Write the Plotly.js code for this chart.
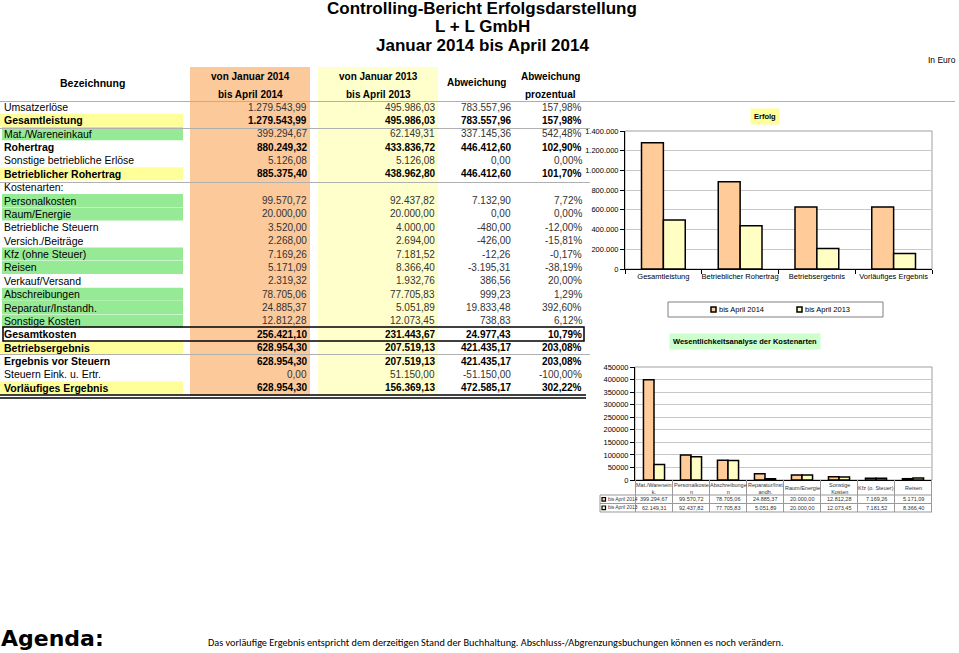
<!DOCTYPE html>
<html>
<head>
<meta charset="utf-8">
<script src="https://cdn.plot.ly/plotly-3.0.1.min.js"></script>
<style>html,body{margin:0;padding:0;background:#fff;}</style>
</head>
<body>
<div id="chart" style="width:959px;height:653px;"></div>
<script>
// Tabelle Erfolgsdarstellung
const rowLabels = ["Umsatzerlöse", "Gesamtleistung", "Mat./Wareneinkauf", "Rohertrag", "Sonstige betriebliche Erlöse",
    "Betrieblicher Rohertrag", "Kostenarten:", "Personalkosten", "Raum/Energie", "Betriebliche Steuern",
    "Versich./Beiträge", "Kfz (ohne Steuer)", "Reisen", "Verkauf/Versand", "Abschreibungen",
    "Reparatur/Instandh.", "Sonstige Kosten", "Gesamtkosten", "Betriebsergebnis", "Ergebnis vor Steuern",
    "Steuern Eink. u. Ertr.", "Vorläufiges Ergebnis"];
const ist2014 = [1279543.99, 1279543.99, 399294.67, 880249.32, 5126.08, 885375.40, null, 99570.72, 20000.00, 3520.00,
    2268.00, 7169.26, 5171.09, 2319.32, 78705.06, 24885.37, 12812.28, 256421.10, 628954.30, 628954.30, 0.00, 628954.30];
const ist2013 = [495986.03, 495986.03, 62149.31, 433836.72, 5126.08, 438962.80, null, 92437.82, 20000.00, 4000.00,
    2694.00, 7181.52, 8366.40, 1932.76, 77705.83, 5051.89, 12073.45, 231443.67, 207519.13, 207519.13, 51150.00, 156369.13];
const abweichung = [783557.96, 783557.96, 337145.36, 446412.60, 0.00, 446412.60, null, 7132.90, 0.00, -480.00,
    -426.00, -12.26, -3195.31, 386.56, 999.23, 19833.48, 738.83, 24977.43, 421435.17, 421435.17, -51150.00, 472585.17];
const abweichungProz = [157.98, 157.98, 542.48, 102.90, 0.00, 101.70, null, 7.72, 0.00, -12.00,
    -15.81, -0.17, -38.19, 20.00, 1.29, 392.60, 6.12, 10.79, 203.08, 203.08, -100.00, 302.22];

// Diagramme
const serien = ["bis April 2014", "bis April 2013"];
const erfolgKategorien = ["Gesamtleistung", "Betrieblicher Rohertrag", "Betriebsergebnis", "Vorläufiges Ergebnis"];
const erfolgZeilen = [1, 5, 18, 21];
const kostenKategorien = ["Mat./Wareneink.", "Personalkosten", "Abschreibungen", "Reparatur/Instandh.",
    "Raum/Energie", "Sonstige Kosten", "Kfz (o. Steuer)", "Reisen"];
const kostenKoepfe = ["Mat./Warenein<br>k.", "Personalkoste<br>n", "Abschreibunge<br>n", "Reparatur/Inst<br>andh.",
    "Raum/Energie", "Sonstige<br>Kosten", "Kfz (o. Steuer)", "Reisen"];
const kostenZeilen = [2, 7, 14, 15, 8, 16, 11, 12];

// Formatierung
const boldRows = [1, 3, 5, 17, 18, 19, 21];
const yellowRows = [1, 5, 18, 21];
const greenRows = [2, 7, 8, 11, 12, 14, 15, 16];

const W = 959, H = 653;
const px = (x) => x / W;
const py = (y) => 1 - y / H;
const rowY = (i) => 107 + i * 13.37;

const ORANGE = "#FCC99B", YELLOW = "#FFFFCC", BAR_OR = "#FFCC99", BAR_YE = "#FFFFC4";
const FONT = "Liberation Sans, Arial, sans-serif";

function fmt(v) {
    const neg = v < 0;
    const s = Math.abs(v).toFixed(2).split(".");
    return (neg ? "-" : "") + s[0].replace(/\B(?=(\d{3})+(?!\d))/g, ".") + "," + s[1];
}

const annotations = [];
const shapes = [];

function text(x, y, t, opts) {
    opts = opts || {};
    annotations.push({
        xref: opts.xref || "paper", yref: "paper",
        x: opts.xref ? x : px(x), y: py(y), text: t, showarrow: false,
        xanchor: opts.anchor || "left", yanchor: "middle",
        align: opts.align || "center", bgcolor: opts.bg,
        font: { family: opts.family || FONT, size: opts.size || 10.5, color: opts.color || "#000",
            weight: opts.bold ? "bold" : "normal" },
        borderpad: opts.pad === undefined ? 0 : opts.pad,
    });
}
function rect(x0, y0, x1, y1, fill, line, lw) {
    shapes.push({ type: "rect", xref: "paper", yref: "paper", x0: px(x0), x1: px(x1), y0: py(y1), y1: py(y0),
        fillcolor: fill || "rgba(0,0,0,0)", line: { color: line || "rgba(0,0,0,0)", width: lw || 0 }, layer: "below" });
}
function hline(x0, x1, y, color, w) {
    shapes.push({ type: "line", xref: "paper", yref: "paper", x0: px(x0), x1: px(x1), y0: py(y), y1: py(y),
        line: { color: color, width: w || 1 } });
}

// Titel
text(482, 9, "Controlling-Bericht Erfolgsdarstellung", { anchor: "center", size: 17, bold: true });
text(482, 27, "L + L GmbH", { anchor: "center", size: 17, bold: true });
text(482, 45, "Januar 2014 bis April 2014", { anchor: "center", size: 17, bold: true });
text(957, 60, "In Euro", { anchor: "right", size: 8.5 });

// Spaltenhintergrund
rect(190, 67, 310, 396, ORANGE);
rect(318, 67, 438, 396, YELLOW);

// Kopfzeile
text(92, 83, "Bezeichnung", { anchor: "center", bold: true, size: 10.5 });
text(250, 76, "von Januar 2014", { anchor: "center", bold: true, size: 10 });
text(250, 94, "bis April 2014", { anchor: "center", bold: true, size: 10 });
text(378, 76, "von Januar 2013", { anchor: "center", bold: true, size: 10 });
text(378, 94, "bis April 2013", { anchor: "center", bold: true, size: 10 });
text(476, 83, "Abweichung", { anchor: "center", bold: true, size: 10 });
text(550, 76, "Abweichung", { anchor: "center", bold: true, size: 10 });
text(550, 94, "prozentual", { anchor: "center", bold: true, size: 10 });

hline(0, 955, 101.5, "#b0b0b0", 1);
hline(0, 590, 128.5, "#b0b0b0", 1);
hline(0, 590, 182.5, "#b0b0b0", 1);
hline(0, 590, 354.5, "#b0b0b0", 1);

rowLabels.forEach((lab, i) => {
    const y = rowY(i);
    const bold = boldRows.includes(i);
    if (yellowRows.includes(i)) rect(0, y - 6.5, 183, y + 6.5, "#FFFF99");
    if (greenRows.includes(i)) rect(2, y - 6.5, 183, y + 6.5, "#96EA96");
    text(3, y, lab, { bold: bold, size: 10.5 });
    if (ist2014[i] === null) return;
    const col = bold ? "#000" : "#333";
    text(308, y, fmt(ist2014[i]), { anchor: "right", bold: bold, color: col, size: 10 });
    text(436, y, fmt(ist2013[i]), { anchor: "right", bold: bold, color: col, size: 10 });
    text(512, y, fmt(abweichung[i]), { anchor: "right", bold: bold, color: col, size: 10 });
    text(583, y, fmt(abweichungProz[i]) + "%", { anchor: "right", bold: bold, color: col, size: 10 });
});

// Gesamtkosten-Rahmen und Abschlusslinie
shapes.push({ type: "rect", xref: "paper", yref: "paper", x0: px(3), x1: px(584), y0: py(341), y1: py(327),
    line: { color: "#000", width: 1.5 } });
hline(0, 586, 395, "#000", 1.5);
hline(0, 586, 398, "#000", 1.5);

// Diagramm 1: Erfolg
text(765, 116, "Erfolg", { anchor: "center", bold: true, size: 7.5, bg: "#FFFF99", pad: 3 });
const traces = [
    { type: "bar", name: serien[0], x: erfolgKategorien, y: erfolgZeilen.map((i) => ist2014[i]),
        xaxis: "x", yaxis: "y", marker: { color: BAR_OR, line: { color: "#000", width: 1.5 } } },
    { type: "bar", name: serien[1], x: erfolgKategorien, y: erfolgZeilen.map((i) => ist2013[i]),
        xaxis: "x", yaxis: "y", marker: { color: BAR_YE, line: { color: "#000", width: 1.5 } } },
    { type: "bar", name: serien[0], x: kostenKategorien, y: kostenZeilen.map((i) => ist2014[i]),
        xaxis: "x2", yaxis: "y2", marker: { color: BAR_OR, line: { color: "#000", width: 1.5 } } },
    { type: "bar", name: serien[1], x: kostenKategorien, y: kostenZeilen.map((i) => ist2013[i]),
        xaxis: "x2", yaxis: "y2", marker: { color: BAR_YE, line: { color: "#000", width: 1.5 } } },
];

// Plotrahmen grau
["", "2"].forEach((n) => {
    shapes.push({ type: "rect", xref: "x" + n + " domain", yref: "y" + n + " domain", x0: 0, x1: 1, y0: 0, y1: 1,
        line: { color: "#a0a0a0", width: 1 }, layer: "below" });
});

// Legende Diagramm 1
rect(668, 302, 883, 317, null, "#808080", 1);
[[711, BAR_OR, serien[0]], [797, BAR_YE, serien[1]]].forEach(([x, c, t]) => {
    shapes.push({ type: "rect", xref: "paper", yref: "paper", x0: px(x), x1: px(x + 5), y0: py(312), y1: py(307),
        fillcolor: c, line: { color: "#000", width: 1.5 } });
    text(x + 7, 309.5, t, { size: 7.5 });
});

// Diagramm 2: Kostenarten
text(745, 341, "Wesentlichkeitsanalyse der Kostenarten", { anchor: "center", bold: true, size: 7.5, bg: "#CCFFCC", pad: 3 });

// Datentabelle unter Diagramm 2
for (let k = 0; k <= kostenKategorien.length; k++) {
    shapes.push({ type: "line", xref: "x2", yref: "paper", x0: k - 0.5, x1: k - 0.5, y0: py(480), y1: py(512),
        line: { color: "#999", width: 1 } });
}
shapes.push({ type: "line", xref: "paper", yref: "paper", x0: px(600), x1: px(600), y0: py(495), y1: py(512),
    line: { color: "#999", width: 1 } });
[495, 503.5, 512].forEach((y) => hline(600, 932, y, "#999", 1));

kostenKategorien.forEach((k, j) => {
    text(k, 488, kostenKoepfe[j], { xref: "x2", anchor: "center", size: 5.5, color: "#333" });
    text(k, 499.3, fmt(ist2014[kostenZeilen[j]]), { xref: "x2", anchor: "center", size: 5.5, color: "#333" });
    text(k, 507.8, fmt(ist2013[kostenZeilen[j]]), { xref: "x2", anchor: "center", size: 5.5, color: "#333" });
});
[[499.3, BAR_OR, serien[0]], [507.8, BAR_YE, serien[1]]].forEach(([y, c, t]) => {
    shapes.push({ type: "rect", xref: "paper", yref: "paper", x0: px(602), x1: px(605.5), y0: py(y + 1.8), y1: py(y - 1.8),
        fillcolor: c, line: { color: "#000", width: 1.2 } });
    text(606.5, y, t, { size: 4.9, color: "#333" });
});

// Fusszeile
text(0, 638.5, "Agenda:", { family: "DejaVu Sans, sans-serif", size: 22, bold: true });
text(207, 642, "Das vorläufige Ergebnis entspricht dem derzeitigen Stand der Buchhaltung. Abschluss-/Abgrenzungsbuchungen können es noch verändern.",
    { family: "Carlito, Liberation Sans Narrow, Arial Narrow, sans-serif", size: 10.25 });

const axisCommon = { showline: true, linecolor: "#000", linewidth: 1, ticks: "outside", ticklen: 4,
    tickcolor: "#000", fixedrange: true, zeroline: false };

const layout = {
    width: W, height: H,
    margin: { l: 0, r: 0, t: 0, b: 0 },
    paper_bgcolor: "#fff", plot_bgcolor: "#fff",
    showlegend: false,
    barmode: "group", bargap: 0.43, bargroupgap: 0,
    separators: ",.",
    font: { family: FONT, color: "#000" },
    xaxis: Object.assign({}, axisCommon, { domain: [px(625), px(932)], anchor: "y", tickson: "boundaries",
        tickangle: 0, showgrid: false, tickfont: { size: 7.5 } }),
    yaxis: Object.assign({}, axisCommon, { domain: [py(269), py(131)], anchor: "x", range: [0, 1400000],
        dtick: 200000, tickformat: ",d", gridcolor: "#c8c8c8", tickfont: { size: 7.5 } }),
    xaxis2: Object.assign({}, axisCommon, { domain: [px(635), px(932)], anchor: "y2", ticks: "",
        showticklabels: false, showgrid: false }),
    yaxis2: Object.assign({}, axisCommon, { domain: [py(480), py(367)], anchor: "x2", range: [0, 450000],
        dtick: 50000, tickformat: "d", gridcolor: "#c8c8c8", tickfont: { size: 7.5 } }),
    annotations: annotations,
    shapes: shapes,
};

Plotly.newPlot("chart", traces, layout, { displayModeBar: false, staticPlot: true });
</script>
</body>
</html>
